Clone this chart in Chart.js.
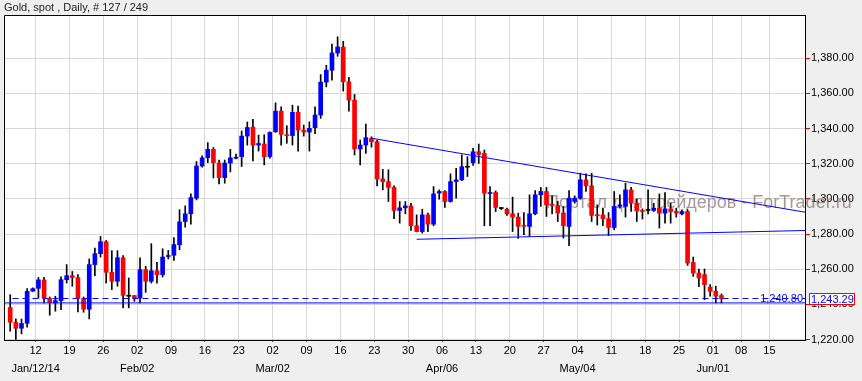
<!DOCTYPE html>
<html>
<head>
<meta charset="utf-8">
<script src="https://cdn.jsdelivr.net/npm/chart.js@4.4.1/dist/chart.umd.min.js"></script>
<style>
  html, body { margin: 0; padding: 0; background: #efefef; }
  #wrap { position: relative; width: 862px; height: 381px; }
</style>
</head>
<body>
<div id="wrap"><canvas id="chart" width="862" height="381"></canvas></div>
<script>
// Gold spot, daily candles (6 bars a week)
const opens = [
  1238.2, 1229.8, 1226.4, 1229.2, 1247.5, 1249.1, 1253.9, 1243.3, 1240.8, 1242.1,
  1254.0, 1256.3, 1255.2, 1243.3, 1237.2, 1262.6, 1268.8, 1275.6, 1258.2, 1253.1,
  1266.5, 1244.6, 1245.0, 1243.6, 1259.7, 1253.1, 1259.1, 1256.9, 1267.2, 1267.9,
  1273.9, 1287.1, 1291.5, 1300.4, 1318.7, 1323.4, 1328.2, 1320.4, 1312.1, 1320.4,
  1323.1, 1324.0, 1335.7, 1340.8, 1330.6, 1331.2, 1324.0, 1338.2, 1349.9, 1336.5,
  1336.0, 1349.2, 1339.1, 1338.0, 1340.5, 1347.7, 1366.4, 1373.2, 1383.0, 1386.4,
  1366.6, 1356.2, 1328.4, 1330.6, 1334.4, 1332.5, 1311.3, 1309.8, 1306.5, 1293.4,
  1294.9, 1296.0, 1284.7, 1281.4, 1290.9, 1285.6, 1303.3, 1304.2, 1298.5, 1309.8,
  1310.8, 1318.0, 1320.6, 1326.8, 1325.9, 1303.0, 1303.6, 1294.5, 1294.1, 1291.5,
  1289.6, 1284.9, 1284.3, 1291.5, 1302.3, 1304.2, 1297.0, 1296.2, 1291.9, 1284.3,
  1298.5, 1300.4, 1310.8, 1307.4, 1291.0, 1290.9, 1288.7, 1283.7, 1295.7, 1295.7,
  1305.1, 1297.5, 1293.4, 1293.4, 1293.4, 1294.7, 1291.9, 1294.3, 1292.8, 1291.5,
  1292.8, 1263.8, 1257.8, 1256.9, 1249.8, 1247.4, 1245.0
];
const highs = [
  1245.5, 1231.7, 1231.6, 1248.9, 1249.4, 1255.3, 1255.3, 1244.2, 1244.6, 1255.7,
  1262.6, 1258.7, 1256.9, 1244.2, 1265.8, 1272.0, 1278.6, 1276.3, 1270.5, 1270.5,
  1267.7, 1255.0, 1245.1, 1266.4, 1261.6, 1274.5, 1263.9, 1271.6, 1270.7, 1277.9,
  1293.8, 1296.0, 1302.8, 1321.2, 1324.5, 1332.0, 1329.2, 1322.1, 1322.1, 1328.2,
  1325.5, 1338.6, 1343.7, 1345.2, 1336.3, 1336.5, 1338.2, 1354.6, 1352.4, 1341.6,
  1353.3, 1352.8, 1342.0, 1343.8, 1352.4, 1370.7, 1376.0, 1388.0, 1392.2, 1389.6,
  1369.2, 1359.4, 1333.5, 1342.6, 1335.3, 1333.5, 1316.8, 1316.5, 1307.4, 1298.5,
  1298.5, 1297.5, 1290.9, 1294.1, 1291.9, 1307.0, 1305.1, 1304.7, 1314.2, 1317.4,
  1325.0, 1324.0, 1328.7, 1331.2, 1327.8, 1307.0, 1304.5, 1295.1, 1294.7, 1301.0,
  1291.9, 1292.2, 1302.3, 1304.7, 1306.5, 1306.5, 1301.7, 1298.5, 1295.7, 1304.7,
  1301.7, 1314.6, 1314.2, 1314.6, 1296.6, 1294.7, 1292.2, 1304.2, 1302.3, 1308.9,
  1306.5, 1299.8, 1294.3, 1305.1, 1297.5, 1302.8, 1303.6, 1297.5, 1294.7, 1293.8,
  1293.8, 1266.9, 1260.1, 1260.1, 1251.2, 1250.3, 1245.9
];
const lows = [
  1224.7, 1220.0, 1223.2, 1227.0, 1247.4, 1243.6, 1240.8, 1233.8, 1236.1, 1237.0,
  1252.1, 1250.3, 1235.7, 1235.5, 1231.7, 1256.3, 1266.9, 1252.1, 1248.4, 1250.3,
  1238.0, 1238.0, 1241.7, 1240.8, 1246.8, 1252.1, 1252.1, 1255.5, 1265.8, 1265.0,
  1271.1, 1283.9, 1285.6, 1299.4, 1318.0, 1320.6, 1311.9, 1308.5, 1308.9, 1315.3,
  1322.7, 1318.4, 1330.6, 1321.6, 1327.2, 1319.3, 1323.1, 1337.8, 1330.6, 1331.6,
  1330.6, 1327.2, 1335.7, 1327.2, 1337.1, 1345.8, 1363.7, 1367.5, 1381.1, 1361.3,
  1349.9, 1325.0, 1319.3, 1325.9, 1329.4, 1307.4, 1305.1, 1298.5, 1288.7, 1286.2,
  1291.5, 1282.0, 1281.2, 1280.5, 1281.4, 1284.7, 1299.8, 1295.1, 1298.1, 1300.4,
  1310.4, 1312.7, 1319.0, 1320.2, 1284.7, 1284.7, 1292.8, 1293.9, 1290.6, 1281.4,
  1277.5, 1279.6, 1278.6, 1290.9, 1295.7, 1290.0, 1291.5, 1287.1, 1277.7, 1273.3,
  1297.5, 1299.8, 1304.2, 1287.1, 1285.1, 1284.7, 1279.1, 1282.4, 1294.7, 1289.6,
  1292.8, 1287.1, 1288.5, 1291.5, 1292.8, 1283.4, 1286.2, 1286.2, 1289.6, 1290.9,
  1262.1, 1255.9, 1250.0, 1242.7, 1244.6, 1240.8, 1240.8
];
const closes = [
  1229.8, 1226.4, 1229.1, 1247.4, 1248.9, 1253.9, 1243.6, 1241.0, 1242.1, 1254.0,
  1256.3, 1255.2, 1243.3, 1237.2, 1262.6, 1268.8, 1275.6, 1258.2, 1253.1, 1266.5,
  1245.1, 1244.6, 1243.6, 1259.7, 1253.1, 1259.1, 1256.9, 1266.9, 1267.7, 1274.0,
  1286.9, 1291.5, 1300.7, 1318.7, 1323.3, 1328.2, 1320.6, 1312.1, 1320.4, 1323.3,
  1323.7, 1335.7, 1340.6, 1330.6, 1331.5, 1324.0, 1337.8, 1349.9, 1336.7, 1336.0,
  1349.2, 1339.1, 1338.0, 1340.1, 1347.7, 1366.4, 1373.2, 1383.0, 1386.4, 1366.6,
  1356.2, 1328.4, 1330.6, 1334.8, 1332.5, 1311.3, 1309.8, 1306.5, 1293.4, 1294.9,
  1296.0, 1284.7, 1281.4, 1290.9, 1285.6, 1302.8, 1304.2, 1298.5, 1309.8, 1310.8,
  1318.3, 1318.0, 1326.8, 1325.3, 1303.2, 1303.6, 1295.1, 1294.5, 1291.5, 1289.6,
  1284.4, 1284.4, 1291.5, 1302.3, 1304.2, 1296.6, 1296.2, 1291.9, 1284.7, 1300.4,
  1300.4, 1310.8, 1307.4, 1290.6, 1290.4, 1288.7, 1283.7, 1295.7, 1296.6, 1305.1,
  1297.5, 1293.2, 1292.8, 1293.4, 1294.7, 1291.9, 1294.3, 1292.8, 1291.9, 1292.8,
  1263.5, 1257.8, 1255.0, 1251.2, 1247.4, 1244.6, 1243.3
];

const weekLabels = ["12", "19", "26", "02", "09", "16", "23", "02", "09", "16", "23", "30",
  "06", "13", "20", "27", "04", "11", "18", "25", "01", "08", "15"];
const monthLabels = ["Jan/12/14", "", "", "Feb/02", "", "", "", "Mar/02", "", "", "", "",
  "Apr/06", "", "", "", "May/04", "", "", "", "Jun/01", "", ""];
const priceTicks = [1220, 1240, 1260, 1280, 1300, 1320, 1340, 1360, 1380];

// drawn lines: [bar index, price]
const resistLine = [[64, 1334.5], [140.8, 1292.4]];
const supportLine = [[72, 1277.0], [140.8, 1282.0]];
const levelPrice = 1240.80;
const lastPrice = 1243.29;

const X_MIN = -1.1, X_MAX = 140.8;
const BLUE = "#0000ff", RED = "#ff0000";

// week boundaries: 6 bars/week with data, 5 bars/week in the empty future part
const dataWeeks = 21;
const weekPos = weekLabels.map((_, k) =>
  k < dataWeeks ? 4.5 + 6 * k : 4.5 + 6 * (dataWeeks - 1) + 5 * (k - dataWeeks + 1));

const bodies = opens.map((o, i) => ({ x: i, y: [o, closes[i]] }));
const wicks = lows.map((l, i) => ({ x: i, y: [l, highs[i]] }));
const bodyColors = opens.map((o, i) => closes[i] > o ? BLUE : closes[i] < o ? RED : "#000000");

const fmt = (v) => v.toLocaleString("en-US", { minimumFractionDigits: 2, maximumFractionDigits: 2 });

const decor = {
  id: "decor",
  beforeDraw(chart) {
    const { ctx, chartArea: a } = chart;
    ctx.save();
    ctx.fillStyle = "#ffffff";
    ctx.fillRect(a.left, a.top, a.right - a.left, a.bottom - a.top);
    ctx.restore();
  },
  beforeDatasetsDraw(chart) {
    const { ctx } = chart;
    ctx.save();
    ctx.font = "18px Arial, 'Liberation Sans', sans-serif";
    ctx.fillStyle = "rgba(120, 95, 95, 0.65)";
    ctx.textBaseline = "alphabetic";
    ctx.fillText("Портал для трейдеров - ForTrader.ru", 546, 208);
    ctx.restore();
  },
  afterDraw(chart) {
    const { ctx, chartArea: a, scales } = chart;
    const y = scales.y;
    ctx.save();
    // frame left + top
    ctx.strokeStyle = "#000000";
    ctx.lineWidth = 1;
    ctx.beginPath();
    ctx.moveTo(a.left + 0.5, a.bottom);
    ctx.lineTo(a.left + 0.5, a.top + 0.5);
    ctx.lineTo(a.right, a.top + 0.5);
    ctx.stroke();

    // title
    ctx.font = "11px Arial, 'Liberation Sans', sans-serif";
    ctx.fillStyle = "#222222";
    ctx.textBaseline = "alphabetic";
    ctx.textAlign = "left";
    ctx.fillText("Gold, spot , Daily, # 127 / 249", 4, 11);

    // level label
    ctx.fillStyle = BLUE;
    ctx.textAlign = "right";
    ctx.fillText(fmt(levelPrice), a.right - 2, Math.round(y.getPixelForValue(levelPrice)) - 1);

    // last price box
    const py = Math.round(y.getPixelForValue(lastPrice));
    ctx.fillStyle = "#ffffff";
    ctx.fillRect(a.right + 4, py - 6, 46, 12);
    ctx.strokeStyle = RED;
    ctx.strokeRect(a.right + 4.5, py - 5.5, 45, 11);
    ctx.fillStyle = BLUE;
    ctx.textAlign = "left";
    ctx.textBaseline = "middle";
    ctx.fillText(fmt(lastPrice), a.right + 6, py + 0.5);
    ctx.restore();
  }
};

const lineDs = (pts, extra) => Object.assign({
  type: "line",
  data: pts.map(([x, v]) => ({ x, y: v })),
  borderColor: BLUE,
  borderWidth: 1,
  pointRadius: 0,
  fill: false,
  tension: 0,
  order: -1
}, extra);

new Chart(document.getElementById("chart"), {
  type: "bar",
  data: {
    datasets: [
      {
        data: bodies,
        backgroundColor: bodyColors,
        barThickness: 4,
        minBarLength: 1,
        grouped: false,
        order: 0
      },
      {
        data: wicks,
        backgroundColor: "#000000",
        barThickness: 1,
        grouped: false,
        order: 1
      },
      lineDs(resistLine),
      lineDs(supportLine),
      lineDs([[X_MIN, levelPrice], [X_MAX, levelPrice]]),
      lineDs([[X_MIN + 1.5, lastPrice], [X_MAX, lastPrice]], { borderDash: [6, 4] })
    ]
  },
  options: {
    responsive: false,
    animation: false,
    devicePixelRatio: 1,
    layout: { padding: { top: 15, left: 4, right: 0, bottom: 0 } },
    plugins: { legend: { display: false }, tooltip: { enabled: false } },
    scales: {
      x: {
        type: "linear",
        offset: false,
        min: X_MIN,
        max: X_MAX,
        afterBuildTicks: (s) => { s.ticks = weekPos.map((v) => ({ value: v })); },
        afterFit: (s) => { s.height = 41; },
        ticks: {
          autoSkip: false,
          maxRotation: 0,
          padding: 0,
          color: "#000000",
          font: { family: "Arial, 'Liberation Sans', sans-serif", size: 11, lineHeight: "18px" },
          callback: (v, i) => monthLabels[i] ? [weekLabels[i], monthLabels[i]] : weekLabels[i]
        },
        grid: { offset: false, color: "#d6d6d6", lineWidth: 1, tickColor: RED, tickLength: 2 },
        border: { color: "#000000", width: 1 }
      },
      y: {
        position: "right",
        min: 1219.7,
        max: 1404.6,
        afterBuildTicks: (s) => { s.ticks = priceTicks.map((v) => ({ value: v })); },
        afterFit: (s) => { s.width = 57; },
        ticks: {
          padding: 1,
          color: "#000000",
          font: { family: "Arial, 'Liberation Sans', sans-serif", size: 11 },
          callback: (v) => fmt(v)
        },
        grid: { color: "#d6d6d6", lineWidth: 1, tickColor: RED, tickLength: 5 },
        border: { color: "#000000", width: 1 }
      }
    }
  },
  plugins: [decor]
});
</script>
</body>
</html>
